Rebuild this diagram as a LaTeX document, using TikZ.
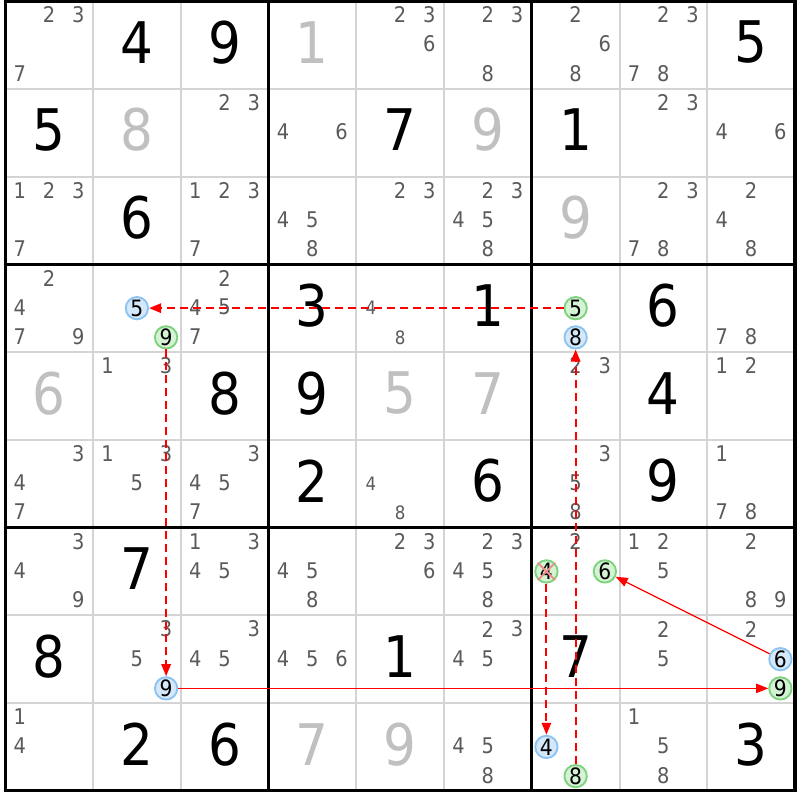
\documentclass[tikz,border=0pt]{standalone}
\usepackage{fontspec}
\setmainfont{DejaVu Sans Condensed}
\usepackage{tikz}
\usetikzlibrary{arrows.meta}

\definecolor{candgray}{RGB}{90,90,90}
\definecolor{solvedgray}{RGB}{192,192,192}
\definecolor{thingray}{RGB}{212,212,212}
\definecolor{onfill}{RGB}{212,242,212}
\definecolor{ondraw}{RGB}{125,210,125}
\definecolor{offfill}{RGB}{212,232,250}
\definecolor{offdraw}{RGB}{140,195,240}
\definecolor{linkred}{RGB}{255,0,0}
\definecolor{crosspink}{RGB}{240,140,140}

\begin{document}
\begin{tikzpicture}[
    given/.style={font=\fontsize{18.6}{20}\selectfont,text=black,inner sep=0pt},
    solved/.style={given,text=solvedgray},
    cand/.style={font=\fontsize{7}{8}\selectfont,text=candgray,inner sep=0pt},
    candsmall/.style={cand,font=\fontsize{6}{7}\selectfont},
    oncand/.style={circle,draw=ondraw,fill=onfill,line width=0.6pt,minimum size=0.255cm,inner sep=0pt,font=\fontsize{7.3}{8}\selectfont},
    offcand/.style={oncand,draw=offdraw,fill=offfill},
    stronglink/.style={draw=linkred,line width=0.4pt,-{Triangle[length=3.9pt,width=3pt]}},
    weaklink/.style={stronglink,line width=0.65pt,dash pattern=on 2.6pt off 1.6pt},
    crossout/.style={draw=crosspink,line width=0.6pt}]
    \useasboundingbox (-0.06,-0.105) rectangle (9.057,9.012);

    \foreach \i in {1,2,4,5,7,8} {
        \draw[thingray,line width=0.65pt] (\i,0) -- (\i,9);
        \draw[thingray,line width=0.65pt] (0,\i) -- (9,\i);
    }
    \foreach \i in {3,6} {
        \draw[line width=1pt] (\i,0) -- (\i,9);
        \draw[line width=1pt] (0,\i) -- (9,\i);
    }
    \draw[line width=1pt] (0,0) rectangle (9,9);

    \node[given] (g12) at (1.5,8.53) {4};
    \node[given] (g13) at (2.5,8.53) {9};
    \node[given] (g19) at (8.5,8.53) {5};
    \node[given] (g21) at (0.5,7.53) {5};
    \node[given] (g25) at (4.5,7.53) {7};
    \node[given] (g27) at (6.5,7.53) {1};
    \node[given] (g32) at (1.5,6.53) {6};
    \node[given] (g44) at (3.5,5.53) {3};
    \node[given] (g46) at (5.5,5.53) {1};
    \node[given] (g48) at (7.5,5.53) {6};
    \node[given] (g53) at (2.5,4.53) {8};
    \node[given] (g54) at (3.5,4.53) {9};
    \node[given] (g58) at (7.5,4.53) {4};
    \node[given] (g64) at (3.5,3.53) {2};
    \node[given] (g66) at (5.5,3.53) {6};
    \node[given] (g68) at (7.5,3.53) {9};
    \node[given] (g72) at (1.5,2.53) {7};
    \node[given] (g81) at (0.5,1.53) {8};
    \node[given] (g85) at (4.5,1.53) {1};
    \node[given] (g87) at (6.5,1.53) {7};
    \node[given] (g92) at (1.5,0.53) {2};
    \node[given] (g93) at (2.5,0.53) {6};
    \node[given] (g99) at (8.5,0.53) {3};

    \node[solved] (s14) at (3.5,8.53) {1};
    \node[solved] (s22) at (1.5,7.53) {8};
    \node[solved] (s26) at (5.5,7.53) {9};
    \node[solved] (s37) at (6.5,6.53) {9};
    \node[solved] (s51) at (0.5,4.53) {6};
    \node[solved] (s55) at (4.5,4.53) {5};
    \node[solved] (s56) at (5.5,4.53) {7};
    \node[solved] (s94) at (3.5,0.53) {7};
    \node[solved] (s95) at (4.5,0.53) {9};

    \foreach \r/\c/\ds in {1/1/{2,3,7},1/5/{2,3,6},1/6/{2,3,8},1/7/{2,6,8},1/8/{2,3,7,8},
        2/3/{2,3},2/4/{4,6},2/8/{2,3},2/9/{4,6},
        3/1/{1,2,3,7},3/3/{1,2,3,7},3/4/{4,5,8},3/5/{2,3},3/6/{2,3,4,5,8},3/8/{2,3,7,8},3/9/{2,4,8},
        4/1/{2,4,7,9},4/3/{2,4,5,7},4/9/{7,8},
        5/2/{1,3},5/7/{2,3},5/9/{1,2},
        6/1/{3,4,7},6/2/{1,3,5},6/3/{3,4,5,7},6/7/{3,5,8},6/9/{1,7,8},
        7/1/{3,4,9},7/3/{1,3,4,5},7/4/{4,5,8},7/5/{2,3,6},7/6/{2,3,4,5,8},7/7/{2},7/8/{1,2,5},7/9/{2,8,9},
        8/2/{3,5},8/3/{3,4,5},8/4/{4,5,6},8/6/{2,3,4,5},8/8/{2,5},8/9/{2},
        9/1/{1,4},9/6/{4,5,8},9/8/{1,5,8}} {
        \foreach \d in \ds {
            \pgfmathsetmacro\cx{\c-0.5+(mod(\d-1,3)-1)/3}
            \pgfmathsetmacro\cy{9.5-\r-(int((\d-1)/3)-1)/3+0.01}
            \node[cand] (k\r\c\d) at (\cx,\cy) {\d};
        }
    }
    \node[candsmall] (k454) at (4.167,5.5) {4};
    \node[candsmall] (k458) at (4.5,5.167) {8};
    \node[candsmall] (k654) at (4.167,3.5) {4};
    \node[candsmall] (k658) at (4.5,3.167) {8};

    \node[oncand] (a475) at (6.5,5.5) {5};
    \node[offcand] (a478) at (6.5,5.167) {8};
    \node[offcand] (a425) at (1.5,5.5) {5};
    \node[oncand] (a429) at (1.833,5.167) {9};
    \node[offcand] (a829) at (1.833,1.167) {9};
    \node[oncand] (a899) at (8.833,1.167) {9};
    \node[offcand] (a896) at (8.833,1.5) {6};
    \node[oncand] (a776) at (6.833,2.5) {6};
    \node[oncand] (a774) at (6.167,2.5) {4};
    \node[offcand] (a974) at (6.167,0.5) {4};
    \node[oncand] (a978) at (6.5,0.167) {8};

    \draw[crossout]
        (a774.north west) -- (a774.south east)
        (a774.north east) -- (a774.south west);

    \draw[weaklink] (a475) -- (a425);
    \draw[weaklink] (a429) -- (a829);
    \draw[stronglink] (a829) -- (a899);
    \draw[stronglink] (a896) -- (a776);
    \draw[weaklink] (a774) -- (a974);
    \draw[weaklink] (a978) -- (a478);
\end{tikzpicture}
\end{document}
